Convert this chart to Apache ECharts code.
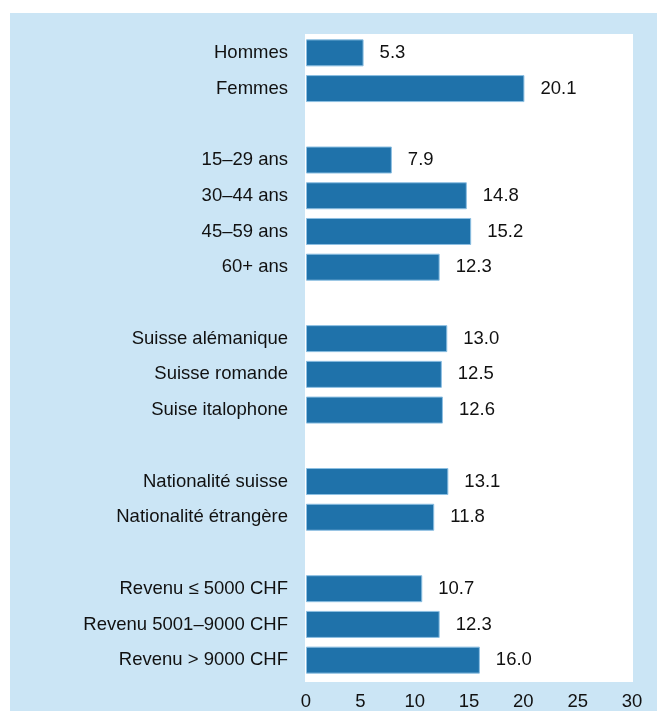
<!DOCTYPE html>
<html>
<head>
<meta charset="utf-8">
<script src="https://cdn.jsdelivr.net/npm/echarts@6/dist/echarts.min.js"></script>
<style>
  html, body { margin: 0; padding: 0; background: #ffffff; }
  #chart { width: 657px; height: 711px; }
</style>
</head>
<body>
<div id="chart"></div>
<script>
// Groups separated by empty slots (empty name, no value)
const categories = [
  'Hommes', 'Femmes', '',
  '15–29 ans', '30–44 ans', '45–59 ans', '60+ ans', '',
  'Suisse alémanique', 'Suisse romande', 'Suise italophone', '',
  'Nationalité suisse', 'Nationalité étrangère', '',
  'Revenu ≤ 5000 CHF', 'Revenu 5001–9000 CHF', 'Revenu > 9000 CHF'
];
const values = [
  5.3, 20.1, null,
  7.9, 14.8, 15.2, 12.3, null,
  13.0, 12.5, 12.6, null,
  13.1, 11.8, null,
  10.7, 12.3, 16.0
];
const xTicks = [0, 5, 10, 15, 20, 25, 30];

const FONT = '"Liberation Sans", Arial, Helvetica, sans-serif';

const chart = echarts.init(document.getElementById('chart'), null, { renderer: 'canvas' });

chart.setOption({
  animation: false,
  backgroundColor: '#ffffff',
  graphic: [{
    type: 'rect',
    z: -10,
    shape: { x: 10, y: 13, width: 647, height: 698 },
    style: { fill: '#cbe5f5' }
  }, {
    // white plotting panel
    type: 'rect',
    z: -9,
    shape: { x: 305, y: 34, width: 328, height: 648 },
    style: { fill: '#ffffff' }
  }],
  grid: {
    left: 306, right: 25, top: 35, bottom: 30
  },
  xAxis: {
    type: 'value',
    min: xTicks[0], max: xTicks[xTicks.length - 1], interval: 5,
    axisLine: { show: false }, axisTick: { show: false }, splitLine: { show: false },
    axisLabel: { color: '#111', fontFamily: FONT, fontSize: 18.5, margin: 14 }
  },
  yAxis: {
    type: 'category',
    data: categories,
    inverse: true,
    axisLine: { show: false }, axisTick: { show: false }, splitLine: { show: false },
    axisLabel: { color: '#111', fontFamily: FONT, fontSize: 18.5, margin: 18 }
  },
  series: [{
    type: 'bar',
    data: values,
    barWidth: 27,
    itemStyle: { color: '#1f72aa', borderColor: '#8cbfe2', borderWidth: 1 },
    label: {
      show: true, position: 'right', distance: 16,
      color: '#111', fontFamily: FONT, fontSize: 18.5,
      formatter: p => p.value == null ? '' : p.value.toFixed(1)
    }
  }]
});
</script>
</body>
</html>
